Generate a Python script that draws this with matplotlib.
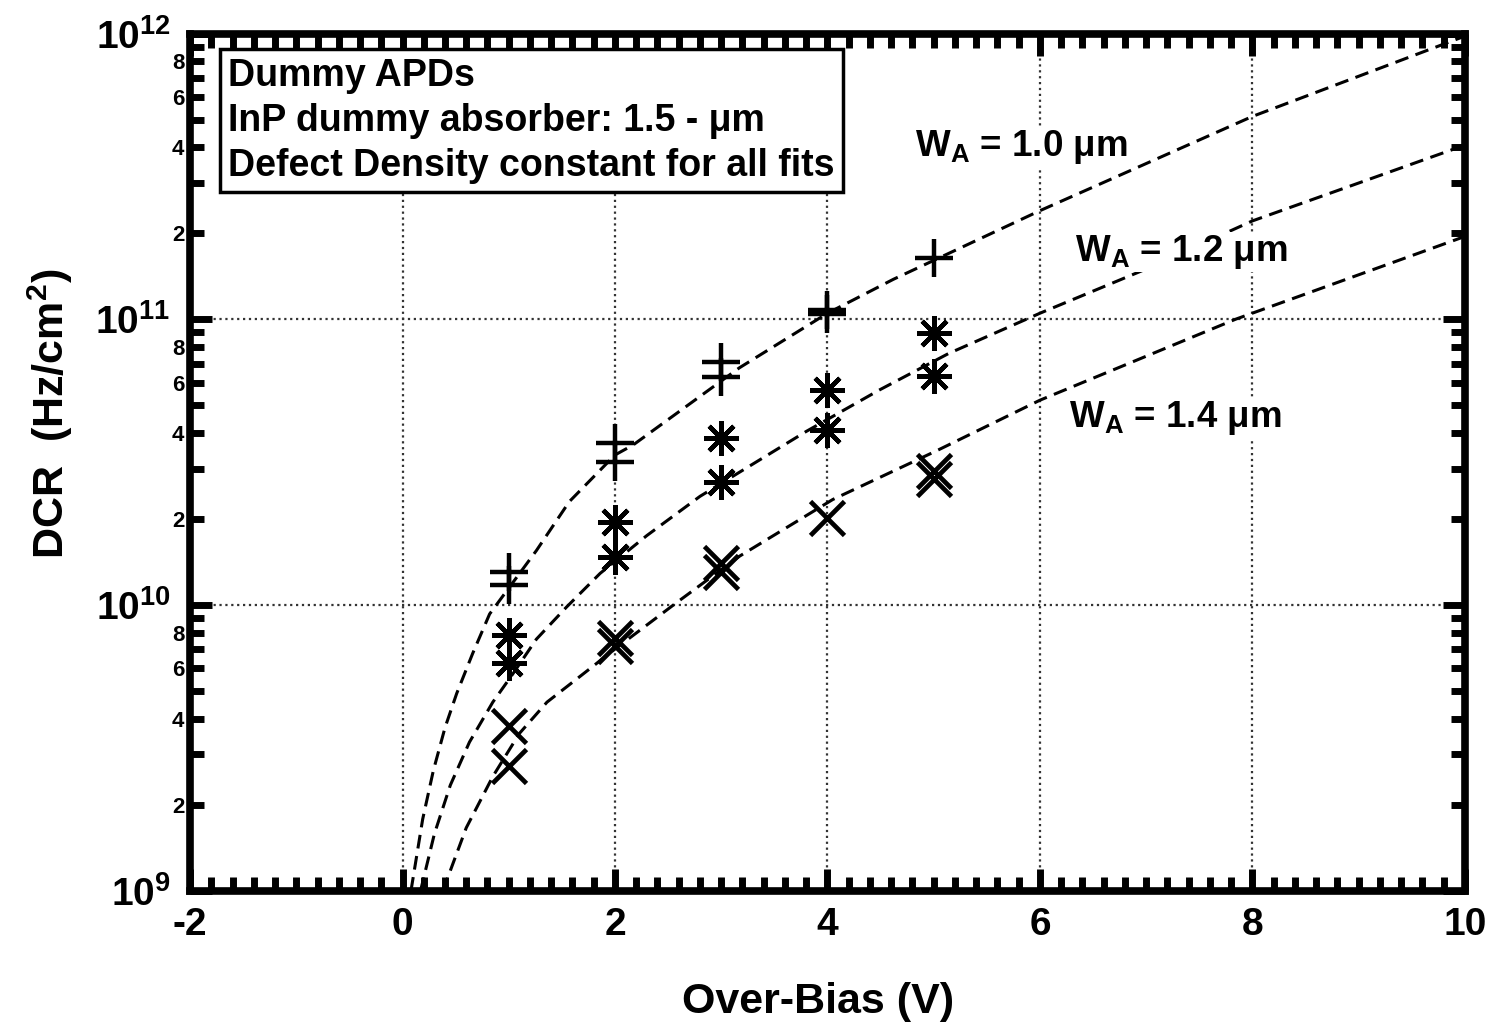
import math
import matplotlib
matplotlib.use('Agg')
import matplotlib.pyplot as plt
from matplotlib.ticker import LogLocator, MultipleLocator, FuncFormatter

plt.rcParams['font.family'] = ['Liberation Sans', 'DejaVu Sans']
plt.rcParams['font.weight'] = 'bold'
plt.rcParams['mathtext.fontset'] = 'custom'
plt.rcParams['mathtext.rm'] = 'Liberation Sans:bold'
plt.rcParams['mathtext.bf'] = 'Liberation Sans:bold'
plt.rcParams['mathtext.it'] = 'Liberation Sans:bold'
plt.rcParams['mathtext.default'] = 'bf'

# measured points (over-bias in V, DCR in Hz/cm^2)
plus_x = [1, 1, 2, 2, 3, 3, 4, 4, 5]
plus_y = [1.3e10, 1.17e10, 3.68e10, 3.17e10, 7.1e10, 6.3e10, 1.08e11, 1.04e11, 1.64e11]

star_x = [1, 1, 2, 2, 3, 3, 4, 4, 5, 5]
star_y = [7.85e9, 6.27e9, 1.95e10, 1.47e10, 3.83e10, 2.7e10, 5.66e10, 4.1e10, 8.98e10, 6.34e10]

cross_x = [1, 1, 2, 2, 3, 3, 4, 5, 5]
cross_y = [3.77e9, 2.74e9, 7.66e9, 7.16e9, 1.4e10, 1.3e10, 2.01e10, 2.95e10, 2.75e10]

# fit curves
fit1_x = [0.08, 0.19, 0.29, 0.40, 0.51, 0.66, 0.82, 1.04, 1.26, 1.57, 2.0, 2.17, 3.17, 4.0, 4.62, 6.0, 8.0, 10.0]
fit1_y = [1.0e9, 1.78e9, 2.63e9, 3.72e9, 4.9e9, 6.76e9, 9.3e9, 1.2e10, 1.55e10, 2.3e10, 3.35e10, 3.63e10,
          6.76e10, 1.05e11, 1.38e11, 2.4e11, 5.13e11, 9.8e11]

fit2_x = [0.17, 0.30, 0.45, 0.63, 0.85, 1.04, 1.26, 1.54, 1.86, 2.3, 2.80, 3.80, 4.49, 5.14, 6.0, 7.0, 8.0, 10.0]
fit2_y = [1.0e9, 1.58e9, 2.34e9, 3.31e9, 4.57e9, 5.75e9, 7.59e9, 9.8e9, 1.29e10, 1.75e10, 2.4e10,
          4.05e10, 5.66e10, 7.59e10, 1.05e11, 1.5e11, 2.21e11, 4.07e11]

fit3_x = [0.38, 0.60, 0.85, 1.10, 1.36, 1.67, 1.98, 2.55, 3.17, 4.05, 5.03, 6.0, 7.84, 10.0]
fit3_y = [1.0e9, 1.66e9, 2.51e9, 3.55e9, 4.57e9, 5.62e9, 6.92e9, 1.0e10, 1.48e10, 2.34e10, 3.47e10,
          5.21e10, 1.0e11, 1.95e11]

fit_labels = ['W$_A$ = 1.0 \u03bcm', 'W$_A$ = 1.2 \u03bcm', 'W$_A$ = 1.4 \u03bcm']
label_pos = [(4.82, 4.0e11), (6.33, 1.72e11), (6.27, 4.5e10)]

box_lines = ['Dummy APDs', 'InP dummy absorber: 1.5 - \u03bcm', 'Defect Density constant for all fits']


fig = plt.figure(figsize=(14.88, 10.24), dpi=100)
ax = fig.add_axes([0.1277, 0.1302, 0.8568, 0.8370])

dash = (4.5, 2.5)
ax.plot(fit1_x, fit1_y, color='black', lw=2.2, ls='--', dashes=dash, zorder=2)
ax.plot(fit2_x, fit2_y, color='black', lw=2.2, ls='--', dashes=dash, zorder=2)
ax.plot(fit3_x, fit3_y, color='black', lw=2.2, ls='--', dashes=dash, zorder=2)

ax.plot(plus_x, plus_y, ls='none', marker='+', ms=27, mew=3.2, color='black', zorder=3)
ax.plot(star_x, star_y, ls='none', marker=(8, 2, 0), ms=25, mew=3.2, color='black', zorder=3)
ax.plot(cross_x, cross_y, ls='none', marker='x', ms=25, mew=3.4, color='black', zorder=3)

ax.set_yscale('log')
ax.set_xlim(-2, 10)
ax.set_ylim(1e9, 1e12)

ax.xaxis.set_major_locator(MultipleLocator(2))
ax.xaxis.set_minor_locator(MultipleLocator(0.2))
ax.yaxis.set_major_locator(LogLocator(base=10, numticks=10))
ax.yaxis.set_minor_locator(LogLocator(base=10, subs=[2, 3, 4, 5, 6, 7, 8, 9], numticks=20))


def major_fmt(v, pos):
    e = int(round(math.log10(v)))
    return r'$\mathbf{10^{%d}}$' % e


def minor_fmt(v, pos):
    m = int(round(v / 10 ** math.floor(math.log10(v) + 1e-9)))
    return str(m) if m in (2, 4, 6, 8) else ''


ax.yaxis.set_major_formatter(FuncFormatter(major_fmt))
ax.yaxis.set_minor_formatter(FuncFormatter(minor_fmt))
ax.xaxis.set_major_formatter(FuncFormatter(lambda v, p: '%d' % v))

ax.tick_params(which='major', direction='in', length=16, width=5, top=True, right=True,
               labelsize=28, pad=12, color='black')
ax.tick_params(which='minor', direction='in', length=10, width=5, top=True, right=True, color='black')
ax.tick_params(axis='y', which='minor', labelsize=16, pad=4)
ax.tick_params(axis='y', which='major', pad=14)
for lab in ax.get_xticklabels() + ax.get_yticklabels() + ax.get_yticklabels(minor=True):
    lab.set_fontweight('bold')

for sp in ax.spines.values():
    sp.set_linewidth(5.5)
    sp.set_color('black')

ax.grid(True, which='major', ls=':', lw=1.6, color='#333333')
ax.set_axisbelow(True)

ax.set_xlabel('Over-Bias (V)', fontsize=31, fontweight='bold')
ax.set_ylabel('DCR  (Hz/cm$^2$)', fontsize=31, fontweight='bold')
ax.xaxis.set_label_coords(0.493, -0.106)
ax.yaxis.set_label_coords(-0.09, 0.556)

for (tx, ty), txt in zip(label_pos, fit_labels):
    ax.text(tx, ty, txt, fontsize=26.5, fontweight='bold', ha='left', va='center', zorder=4,
            bbox=dict(boxstyle='square,pad=0.02', fc='white', ec='none'))

ax.text(0.030, 0.972, '\n'.join(box_lines), transform=ax.transAxes, fontsize=27,
        fontweight='bold', ha='left', va='top', linespacing=1.32, zorder=5,
        bbox=dict(boxstyle='square,pad=0.22', fc='white', ec='black', lw=2.5))

fig.savefig('out.png', dpi=100)
